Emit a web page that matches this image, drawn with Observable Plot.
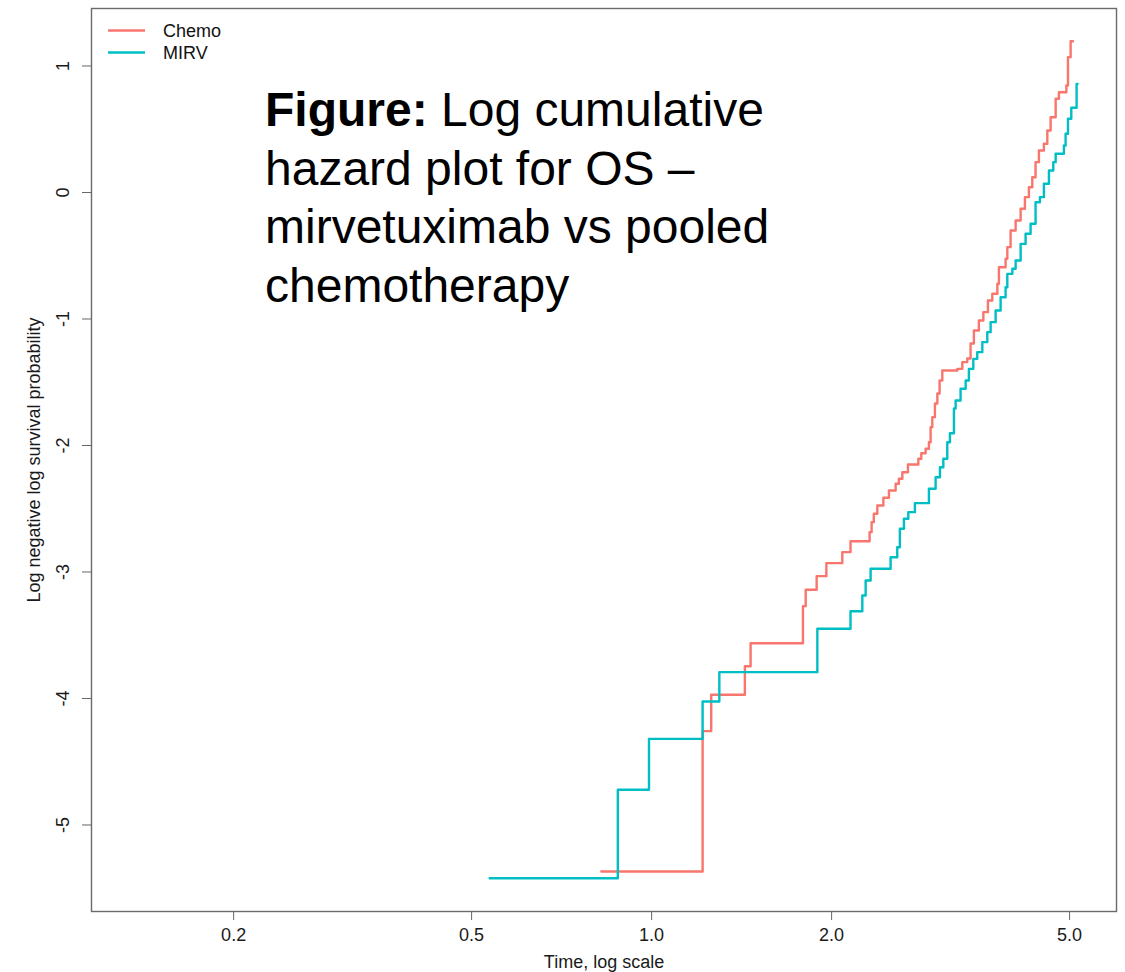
<!DOCTYPE html>
<html><head><meta charset="utf-8">
<script src="https://cdn.jsdelivr.net/npm/d3@7"></script>
<script src="https://cdn.jsdelivr.net/npm/@observablehq/plot@0.6"></script>
<style>
html,body{margin:0;padding:0;background:#fff;}
#chart svg{display:block;}
</style></head><body><div id="chart"></div>
<script>
const seriesNames = ["Chemo", "MIRV"];
const seriesColors = ["#F8766D", "#00BFC4"];

const chemoTime = [0.824, 1.217, 1.258, 1.432, 1.464, 1.791, 1.810, 1.888, 1.960, 2.084, 2.151, 2.315, 2.333, 2.353, 2.385, 2.441, 2.494, 2.559, 2.591, 2.626, 2.683, 2.793, 2.825, 2.872, 2.909, 2.928, 2.947, 2.977, 3.005, 3.031, 3.063, 3.245, 3.308, 3.372, 3.415, 3.459, 3.526, 3.587, 3.651, 3.713, 3.786, 3.809, 3.908, 3.934, 3.984, 4.062, 4.141, 4.210, 4.275, 4.331, 4.386, 4.443, 4.529, 4.589, 4.648, 4.739, 4.799, 4.938, 4.969, 5.020, 5.065];
const chemoValue = [-5.368, -4.258, -3.971, -3.745, -3.563, -3.270, -3.141, -3.033, -2.930, -2.843, -2.757, -2.685, -2.606, -2.540, -2.474, -2.413, -2.356, -2.303, -2.263, -2.211, -2.150, -2.105, -2.061, -2.026, -1.974, -1.855, -1.776, -1.668, -1.589, -1.486, -1.407, -1.394, -1.341, -1.312, -1.194, -1.091, -1.012, -0.946, -0.854, -0.801, -0.722, -0.591, -0.524, -0.432, -0.300, -0.221, -0.129, -0.037, 0.042, 0.121, 0.240, 0.332, 0.385, 0.490, 0.595, 0.741, 0.793, 0.846, 1.070, 1.196, 1.196];

const mirvTime = [0.536, 0.878, 0.990, 1.217, 1.298, 1.893, 2.151, 2.251, 2.280, 2.324, 2.510, 2.575, 2.601, 2.642, 2.687, 2.756, 2.909, 2.985, 3.035, 3.075, 3.122, 3.154, 3.203, 3.224, 3.286, 3.351, 3.393, 3.451, 3.504, 3.573, 3.642, 3.689, 3.761, 3.834, 3.908, 3.934, 4.011, 4.062, 4.141, 4.221, 4.303, 4.386, 4.460, 4.529, 4.618, 4.696, 4.739, 4.892, 4.924, 4.969, 5.033, 5.137, 5.157];
const mirvValue = [-5.421, -4.722, -4.319, -4.024, -3.792, -3.449, -3.310, -3.186, -3.067, -2.975, -2.883, -2.804, -2.658, -2.579, -2.527, -2.456, -2.342, -2.251, -2.172, -2.105, -1.974, -1.903, -1.708, -1.644, -1.552, -1.486, -1.394, -1.315, -1.262, -1.183, -1.104, -1.025, -0.933, -0.828, -0.749, -0.643, -0.603, -0.538, -0.406, -0.326, -0.247, -0.077, -0.037, 0.069, 0.174, 0.240, 0.306, 0.372, 0.464, 0.583, 0.670, 0.859, 0.859];

const xTicks = [0.2, 0.5, 1, 2, 5];
const yTicks = [-5, -4, -3, -2, -1, 0, 1];
const xLabel = "Time, log scale";
const yLabel = "Log negative log survival probability";
const noteBold = "Figure:";
const noteLines = ["Log cumulative", "hazard plot for OS –", "mirvetuximab vs pooled", "chemotherapy"];

const rows = [];
chemoTime.forEach((t, i) => rows.push({group: seriesNames[0], t, v: chemoValue[i]}));
mirvTime.forEach((t, i) => rows.push({group: seriesNames[1], t, v: mirvValue[i]}));

const font = "'Liberation Sans', Arial, Helvetica, sans-serif";

const chart = Plot.plot({
  width: 1125,
  height: 972,
  marginLeft: 91,
  marginRight: 9,
  marginTop: 8,
  marginBottom: 61,
  style: {fontFamily: font, fontSize: "18px", color: "#1a1a1a", background: "#fff"},
  x: {type: "log", domain: [0.1157, 5.99]},
  y: {domain: [-5.684, 1.4545]},
  color: {domain: seriesNames, range: seriesColors},
  marks: [
    Plot.axisX({ticks: xTicks, tickFormat: d3.format(".1f"), tickSize: 9, tickPadding: 8, stroke: "#666",
      label: xLabel, labelAnchor: "center", labelOffset: 56, labelArrow: "none"}),
    Plot.axisY({ticks: yTicks, tickFormat: d => String(d), tickSize: 9, tickPadding: 14, tickRotate: -90, stroke: "#666",
      label: yLabel, labelAnchor: "center", labelOffset: 64, labelArrow: "none"}),
    Plot.line(rows, {x: "t", y: "v", z: "group", stroke: "group", curve: "step-after", strokeWidth: 2.4}),
    Plot.frame({stroke: "#6a6a6a", strokeWidth: 1.4})
  ]
});

document.getElementById("chart").appendChild(chart);

const svg = d3.select(chart);

// legend
const lg = svg.append("g").attr("font-family", font).attr("font-size", 18).attr("fill", "#111").attr("text-anchor", "start");
seriesNames.forEach((name, i) => {
  const y = 30.5 + 22 * i;
  lg.append("line").attr("x1", 108).attr("x2", 145).attr("y1", y).attr("y2", y)
    .attr("stroke", seriesColors[i]).attr("stroke-width", 2.4);
  lg.append("text").attr("x", 163).attr("y", y).attr("dy", "0.35em").text(name);
});

// annotation
const note = svg.append("text").attr("font-family", font).attr("font-size", 48).attr("fill", "#000").attr("text-anchor", "start");
noteLines.forEach((line, i) => {
  const baseline = 126 + 58.6 * i;
  if (i === 0) {
    note.append("tspan").attr("x", 265).attr("y", baseline).attr("font-weight", "bold").text(noteBold);
    note.append("tspan").text(" " + line);
  } else {
    note.append("tspan").attr("x", 265).attr("y", baseline).text(line);
  }
});
</script>
</body></html>
